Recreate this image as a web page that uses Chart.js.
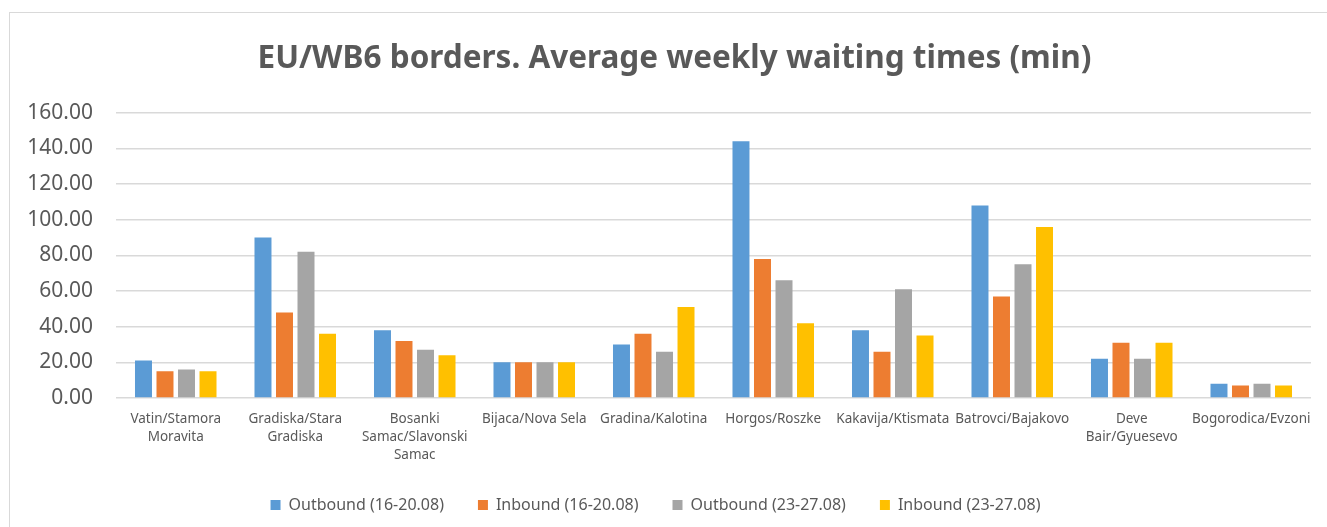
<!DOCTYPE html>
<html>
<head>
<meta charset="utf-8">
<script src="https://cdn.jsdelivr.net/npm/chart.js@4/dist/chart.umd.min.js"></script>
<style>
  html, body { margin: 0; padding: 0; background: #fff; overflow: hidden; }
  #frame { position: absolute; left: 9px; top: 12px; width: 1340px; height: 560px; border: 1px solid #D9D9D9; box-sizing: border-box; }
  #wrap { position: absolute; left: 0; top: 0; width: 1327px; height: 527px; }
</style>
</head>
<body>
<div id="frame"></div>
<div id="wrap"><canvas id="c"></canvas></div>
<script>
const titleText = "EU/WB6 borders. Average weekly waiting times (min)";
const categories = [
  ["Vatin/Stamora", "Moravita"],
  ["Gradiska/Stara", "Gradiska"],
  ["Bosanki", "Samac/Slavonski", "Samac"],
  "Bijaca/Nova Sela",
  "Gradina/Kalotina",
  "Horgos/Roszke",
  "Kakavija/Ktismata",
  "Batrovci/Bajakovo",
  ["Deve", "Bair/Gyuesevo"],
  "Bogorodica/Evzoni"
];
const seriesNames = ["Outbound (16-20.08)", "Inbound (16-20.08)", "Outbound (23-27.08)", "Inbound (23-27.08)"];
const outbound1 = [21, 90, 38, 20, 30, 144, 38, 108, 22, 8];
const inbound1  = [15, 48, 32, 20, 36, 78, 26, 57, 31, 7];
const outbound2 = [16, 82, 27, 20, 26, 66, 61, 75, 22, 8];
const inbound2  = [15, 36, 24, 20, 51, 42, 35, 96, 31, 7];
const colors = ["#5B9BD5", "#ED7D31", "#A5A5A5", "#FFC000"];
const yMin = 0, yMax = 160, yStep = 20;

const seriesValues = [outbound1, inbound1, outbound2, inbound2];
const FONT = "'Noto Sans', sans-serif";

// shift title so it is centred like the reference (centre ~675px)
const titleShift = {
  id: 'titleShift',
  afterLayout(chart) {
    if (chart.titleBlock) {
      chart.titleBlock.left = 38;
      chart.titleBlock.right = 1311;
    }
  }
};

new Chart(document.getElementById('c'), {
  type: 'bar',
  data: {
    labels: categories,
    datasets: seriesValues.map((v, i) => ({
      label: seriesNames[i],
      data: v,
      backgroundColor: colors[i],
      borderWidth: 0,
      barPercentage: 0.79,
      categoryPercentage: 0.72
    }))
  },
  plugins: [titleShift],
  options: {
    responsive: true,
    maintainAspectRatio: false,
    animation: false,
    layout: { padding: { left: 0, right: 16, top: 0, bottom: 4 } },
    plugins: {
      tooltip: { enabled: false },
      title: {
        display: true,
        text: titleText,
        color: '#595959',
        font: { family: FONT, size: 31.5, weight: 'bold' },
        padding: { top: 40, bottom: 35 }
      },
      legend: {
        position: 'bottom',
        labels: {
          color: '#595959',
          font: { family: FONT, size: 16 },
          boxWidth: 10,
          boxHeight: 10,
          padding: 34
        }
      }
    },
    scales: {
      x: {
        afterFit: (s) => { s.height = 65; },
        grid: { display: false, drawTicks: false },
        border: { display: false },
        ticks: {
          color: '#595959',
          font: { family: FONT, size: 13.5, lineHeight: 1.33 },
          padding: 12,
          maxRotation: 0,
          autoSkip: false
        }
      },
      y: {
        min: yMin, max: yMax,
        afterFit: (s) => { s.width = 116; },
        grid: { color: '#D9D9D9', lineWidth: 1.5, drawTicks: false },
        border: { display: false },
        ticks: {
          stepSize: yStep,
          color: '#595959',
          font: { family: FONT, size: 21 },
          padding: 23,
          callback: (v) => Number(v).toFixed(2)
        }
      }
    }
  }
});
</script>
</body>
</html>
